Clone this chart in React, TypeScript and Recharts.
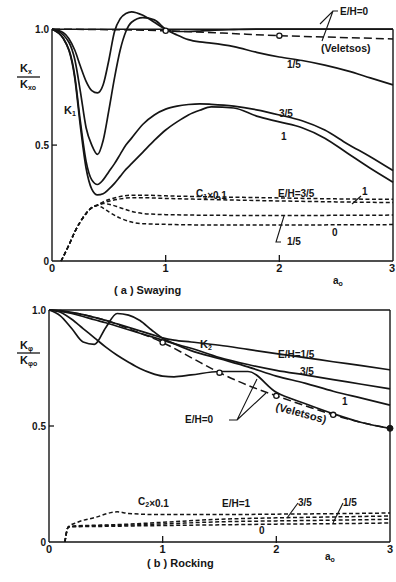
import { LineChart, Line, XAxis, YAxis, ReferenceLine } from "recharts";

// (a) Swaying - stiffness Kx/Kx0
const swayA = [0, 0.1, 0.2, 0.25, 0.3, 0.35, 0.4, 0.45, 0.5, 0.55, 0.6, 0.65, 0.7, 0.8, 0.9, 1.0, 1.1, 1.2, 1.3, 1.4, 1.6, 1.8, 2.0, 2.2, 2.4, 2.6, 2.8, 3.0];
const swayK0 = [1.0, 0.985, 0.91, 0.84, 0.775, 0.735, 0.725, 0.76, 0.866, 0.99, 1.045, 1.068, 1.075, 1.06, 1.03, 1.0, 0.99, 0.99, 0.992, 0.995, 0.998, 1.0, 1.0, 1.0, 1.0, 1.0, 1.0, 1.0];
const swayK15 = [1.0, 0.975, 0.87, 0.73, 0.575, 0.5, 0.46, 0.52, 0.65, 0.79, 0.91, 0.99, 1.03, 1.05, 1.04, 1.0, 0.975, 0.955, 0.945, 0.94, 0.925, 0.9, 0.88, 0.865, 0.845, 0.82, 0.79, 0.76];
const swayK35 = [1.0, 0.96, 0.8, 0.6, 0.43, 0.35, 0.33, 0.35, 0.385, 0.42, 0.46, 0.5, 0.53, 0.59, 0.63, 0.655, 0.668, 0.675, 0.678, 0.676, 0.668, 0.652, 0.63, 0.605, 0.565, 0.505, 0.45, 0.39];
const swayK1 = [1.0, 0.96, 0.79, 0.58, 0.4, 0.31, 0.285, 0.29, 0.31, 0.335, 0.365, 0.395, 0.42, 0.47, 0.52, 0.565, 0.6, 0.63, 0.65, 0.665, 0.66, 0.625, 0.6, 0.575, 0.53, 0.465, 0.4, 0.34];
const swayVelA = [0, 0.5, 1.0, 1.5, 2.0, 2.5, 3.0];
const swayVel = [1.0, 0.998, 0.993, 0.983, 0.972, 0.965, 0.958];
const swayVelMarks = [1.0, 2.0];

// (a) Swaying - damping C1 x 0.1
const swayCA = [0.08, 0.15, 0.2, 0.25, 0.3, 0.35, 0.4, 0.45, 0.5, 0.6, 0.7, 0.8, 1.0, 1.5, 2.0, 2.5, 3.0];
const swayC35 = [0, 0.07, 0.125, 0.17, 0.205, 0.23, 0.242, 0.255, 0.265, 0.278, 0.284, 0.284, 0.281, 0.276, 0.272, 0.268, 0.266];
const swayC1 = [0, 0.07, 0.125, 0.17, 0.205, 0.23, 0.24, 0.25, 0.258, 0.268, 0.273, 0.273, 0.27, 0.264, 0.259, 0.255, 0.252];
const swayC15 = [0, 0.07, 0.125, 0.17, 0.205, 0.23, 0.24, 0.248, 0.245, 0.23, 0.214, 0.205, 0.2, 0.197, 0.196, 0.197, 0.198];
const swayC0 = [0, 0.07, 0.125, 0.17, 0.205, 0.23, 0.24, 0.228, 0.212, 0.185, 0.168, 0.161, 0.158, 0.155, 0.155, 0.156, 0.157];

// (b) Rocking - stiffness Kphi/Kphi0
const rockA = [0, 0.1, 0.2, 0.3, 0.4, 0.5, 0.6, 0.7, 0.8, 0.9, 1.0, 1.1, 1.25, 1.5, 1.75, 2.0, 2.25, 2.5, 2.75, 3.0];
const rockK15 = [1.0, 0.997, 0.99, 0.98, 0.968, 0.955, 0.94, 0.925, 0.91, 0.895, 0.88, 0.87, 0.862, 0.848, 0.83, 0.812, 0.795, 0.777, 0.76, 0.742];
const rockK35 = [1.0, 0.995, 0.985, 0.972, 0.958, 0.945, 0.93, 0.915, 0.9, 0.885, 0.87, 0.855, 0.835, 0.795, 0.765, 0.74, 0.72, 0.7, 0.68, 0.66];
const rockK1 = [1.0, 0.975, 0.92, 0.862, 0.852, 0.925, 0.985, 0.978, 0.955, 0.915, 0.878, 0.855, 0.825, 0.79, 0.755, 0.715, 0.685, 0.65, 0.62, 0.59];
const rockK0 = [1.0, 0.99, 0.96, 0.92, 0.88, 0.84, 0.805, 0.775, 0.748, 0.728, 0.715, 0.712, 0.72, 0.735, 0.735, 0.645, 0.597, 0.553, 0.515, 0.49];
const rockVelA = [0, 0.25, 0.5, 0.75, 1.0, 1.25, 1.5, 1.75, 2.0, 2.25, 2.5, 2.75, 3.0];
const rockVel = [1.0, 0.985, 0.955, 0.91, 0.86, 0.795, 0.73, 0.675, 0.63, 0.588, 0.548, 0.515, 0.49];
const rockVelMarks = [1.0, 1.5, 2.0, 2.5];
const rockVelFilled = [3.0];

// (b) Rocking - damping C2 x 0.1
const rockCA = [0.14, 0.17, 0.25, 0.4, 0.6, 0.7, 1.0, 1.5, 2.0, 2.5, 3.0];
const rockC1 = [0, 0.065, 0.085, 0.105, 0.13, 0.123, 0.118, 0.118, 0.12, 0.122, 0.125];
const rockC35 = [0, 0.065, 0.07, 0.072, 0.075, 0.077, 0.085, 0.098, 0.104, 0.108, 0.112];
const rockC15 = [0, 0.065, 0.068, 0.07, 0.072, 0.073, 0.078, 0.087, 0.091, 0.094, 0.098];
const rockC0 = [0, 0.065, 0.066, 0.067, 0.068, 0.069, 0.071, 0.074, 0.077, 0.079, 0.082];

const xTicks = [0, 1, 2, 3];
const yTicks = [0, 0.5, 1.0];

const INK = "#151515";
const FONT = "'Liberation Sans', Arial, sans-serif";

const pts = (xs: number[], ys: number[]) => xs.map((a, i) => ({ a, v: ys[i] }));

const XTick = (props: any) => {
  const { x, y, payload } = props;
  return (
    <g>
      {payload.value > 0 && payload.value < 3 && (
        <line x1={x} x2={x} y1={y - 6} y2={y + 1} stroke={INK} strokeWidth={1.3} />
      )}
      <text x={x} y={y + 11} textAnchor="middle" fontSize={11} fontWeight="bold" fontFamily={FONT} fill={INK}>
        {payload.value}
      </text>
    </g>
  );
};

const YTick = (props: any) => {
  const { x, y, payload } = props;
  const v = payload.value;
  return (
    <g>
      {v === 0.5 && <line x1={x} x2={x + 5} y1={y} y2={y} stroke={INK} strokeWidth={1.3} />}
      <text x={x - 3} y={y + 4} textAnchor="end" fontSize={10} fontWeight="bold" fontFamily={FONT} fill={INK}>
        {v === 0 ? "0" : v.toFixed(1)}
      </text>
    </g>
  );
};

const markDot = (open: number[], filled: number[] = []) => (props: any) => {
  const { cx, cy, payload, index } = props;
  if (open.includes(payload.a)) {
    return <circle key={index} cx={cx} cy={cy} r={2.6} fill="#fff" stroke={INK} strokeWidth={1.3} />;
  }
  if (filled.includes(payload.a)) {
    return <circle key={index} cx={cx} cy={cy} r={3} fill={INK} stroke={INK} />;
  }
  return <g key={index} />;
};

const solid = { stroke: INK, strokeWidth: 1.7, dot: false, isAnimationActive: false, type: "monotone" as const };
const shortDash = { ...solid, strokeWidth: 1.5, strokeDasharray: "4 2.5" };

const T = (p: { x: number; y: number; children: any; size?: number; rot?: number }) => (
  <text
    x={p.x}
    y={p.y}
    fontSize={p.size ?? 10}
    fontWeight="bold"
    fontFamily={FONT}
    fill={INK}
    transform={p.rot ? `rotate(${p.rot} ${p.x} ${p.y})` : undefined}
  >
    {p.children}
  </text>
);

const Sub = ({ children }: { children: any }) => (
  <tspan fontSize={7} dy={2}>
    {children}
  </tspan>
);

export default function App() {
  return (
    <div style={{ position: "absolute", left: 0, top: 0, width: 396, height: 582, background: "#fff", overflow: "hidden" }}>
      <div style={{ position: "absolute", left: 0, top: 0 }}>
        <LineChart width={396} height={290} margin={{ top: 6, right: 3, bottom: 0, left: 0 }}>
          <XAxis
            dataKey="a"
            type="number"
            domain={[0, 3]}
            ticks={xTicks}
            height={29}
            tickSize={0}
            tickMargin={0}
            tick={XTick}
            stroke={INK}
            strokeWidth={1.4}
          />
          <YAxis
            type="number"
            domain={[0, 1.1]}
            ticks={yTicks}
            width={52}
            tickSize={0}
            tickMargin={0}
            tick={YTick}
            axisLine={false}
          />
          <ReferenceLine segment={[{ x: 0, y: 0 }, { x: 0, y: 1 }]} stroke={INK} strokeWidth={1.4} />
          <ReferenceLine y={1} stroke={INK} strokeWidth={1.4} />
          <ReferenceLine segment={[{ x: 3, y: 0 }, { x: 3, y: 1 }]} stroke={INK} strokeWidth={1.4} />
          <Line data={pts(swayA, swayK0)} dataKey="v" {...solid} />
          <Line data={pts(swayA, swayK15)} dataKey="v" {...solid} />
          <Line data={pts(swayA, swayK35)} dataKey="v" {...solid} />
          <Line data={pts(swayA, swayK1)} dataKey="v" {...solid} />
          <Line
            data={pts(swayVelA, swayVel)}
            dataKey="v"
            {...solid}
            strokeWidth={1.5}
            strokeDasharray="8 4"
            dot={markDot(swayVelMarks)}
          />
          <Line data={pts(swayCA, swayC35)} dataKey="v" {...shortDash} />
          <Line data={pts(swayCA, swayC1)} dataKey="v" {...shortDash} />
          <Line data={pts(swayCA, swayC15)} dataKey="v" {...shortDash} />
          <Line data={pts(swayCA, swayC0)} dataKey="v" {...shortDash} />
        </LineChart>
      </div>

      <div style={{ position: "absolute", left: 0, top: 290 }}>
        <LineChart width={396} height={292} margin={{ top: 20, right: 6, bottom: 0, left: 0 }}>
          <XAxis
            dataKey="a"
            type="number"
            domain={[0, 3]}
            ticks={xTicks}
            height={40}
            tickSize={0}
            tickMargin={0}
            tick={XTick}
            stroke={INK}
            strokeWidth={1.4}
          />
          <YAxis
            type="number"
            domain={[0, 1]}
            ticks={yTicks}
            width={49}
            tickSize={0}
            tickMargin={0}
            tick={YTick}
            stroke={INK}
            strokeWidth={1.4}
          />
          <ReferenceLine y={1} stroke={INK} strokeWidth={1.4} />
          <ReferenceLine x={3} stroke={INK} strokeWidth={1.4} />
          <Line data={pts(rockA, rockK15)} dataKey="v" {...solid} />
          <Line data={pts(rockA, rockK35)} dataKey="v" {...solid} />
          <Line data={pts(rockA, rockK1)} dataKey="v" {...solid} />
          <Line data={pts(rockA, rockK0)} dataKey="v" {...solid} />
          <Line
            data={pts(rockVelA, rockVel)}
            dataKey="v"
            {...solid}
            strokeWidth={1.5}
            strokeDasharray="8 4"
            dot={markDot(rockVelMarks, rockVelFilled)}
          />
          <Line data={pts(rockCA, rockC1)} dataKey="v" {...shortDash} />
          <Line data={pts(rockCA, rockC35)} dataKey="v" {...shortDash} />
          <Line data={pts(rockCA, rockC15)} dataKey="v" {...shortDash} />
          <Line data={pts(rockCA, rockC0)} dataKey="v" {...shortDash} />
        </LineChart>
      </div>

      <svg width={396} height={582} style={{ position: "absolute", left: 0, top: 0, pointerEvents: "none" }}>
        {/* (a) Swaying labels */}
        <T x={20} y={72} size={11}>K<Sub>x</Sub></T>
        <line x1={17} x2={40} y1={77} y2={77} stroke={INK} strokeWidth={1.3} />
        <T x={20} y={88} size={11}>K<Sub>xo</Sub></T>
        <T x={64} y={114} size={11}>K<Sub>1</Sub></T>
        <T x={340} y={15}>E/H=0</T>
        <path d="M338 11 L333 11 L320 24 M333 11 L322 41" stroke={INK} strokeWidth={1.1} fill="none" />
        <T x={321} y={52} size={10.5}>(Veletsos)</T>
        <T x={287} y={68}>1/5</T>
        <T x={279} y={117}>3/5</T>
        <T x={281} y={140}>1</T>
        <T x={196} y={197}>C<Sub>1</Sub>×0.1</T>
        <T x={278} y={197}>E/H=3/5</T>
        <T x={362} y={195}>1</T>
        <path d="M352 204 L361 196" stroke={INK} strokeWidth={1.1} fill="none" />
        <T x={287} y={245}>1/5</T>
        <path d="M281 242 L276 242 L284 216" stroke={INK} strokeWidth={1.1} fill="none" />
        <T x={332} y={236}>0</T>
        <T x={333} y={284}>a<Sub>o</Sub></T>
        <T x={114} y={294} size={11}>( a )  Swaying</T>

        {/* (b) Rocking labels */}
        <T x={20} y={349} size={11}>K<Sub>φ</Sub></T>
        <line x1={17} x2={40} y1={353} y2={353} stroke={INK} strokeWidth={1.3} />
        <T x={20} y={364} size={11}>K<Sub>φo</Sub></T>
        <T x={200} y={348} size={11}>K<Sub>2</Sub></T>
        <T x={278} y={358}>E/H=1/5</T>
        <T x={300} y={375}>3/5</T>
        <T x={342} y={405}>1</T>
        <T x={185} y={423}>E/H=0</T>
        <path d="M229 420 L237 420 L257 379 M237 420 L266 393" stroke={INK} strokeWidth={1.1} fill="none" />
        <T x={275} y={410} size={11} rot={15}>(Veletsos)</T>
        <T x={138} y={505}>C<Sub>2</Sub>×0.1</T>
        <T x={222} y={507}>E/H=1</T>
        <T x={298} y={506}>3/5</T>
        <path d="M287 518 L298 503" stroke={INK} strokeWidth={1.1} fill="none" />
        <T x={343} y={506}>1/5</T>
        <path d="M333 523 L343 503" stroke={INK} strokeWidth={1.1} fill="none" />
        <T x={259} y={534}>0</T>
        <T x={325} y={560}>a<Sub>o</Sub></T>
        <T x={147} y={567} size={11}>( b )  Rocking</T>
      </svg>
    </div>
  );
}
